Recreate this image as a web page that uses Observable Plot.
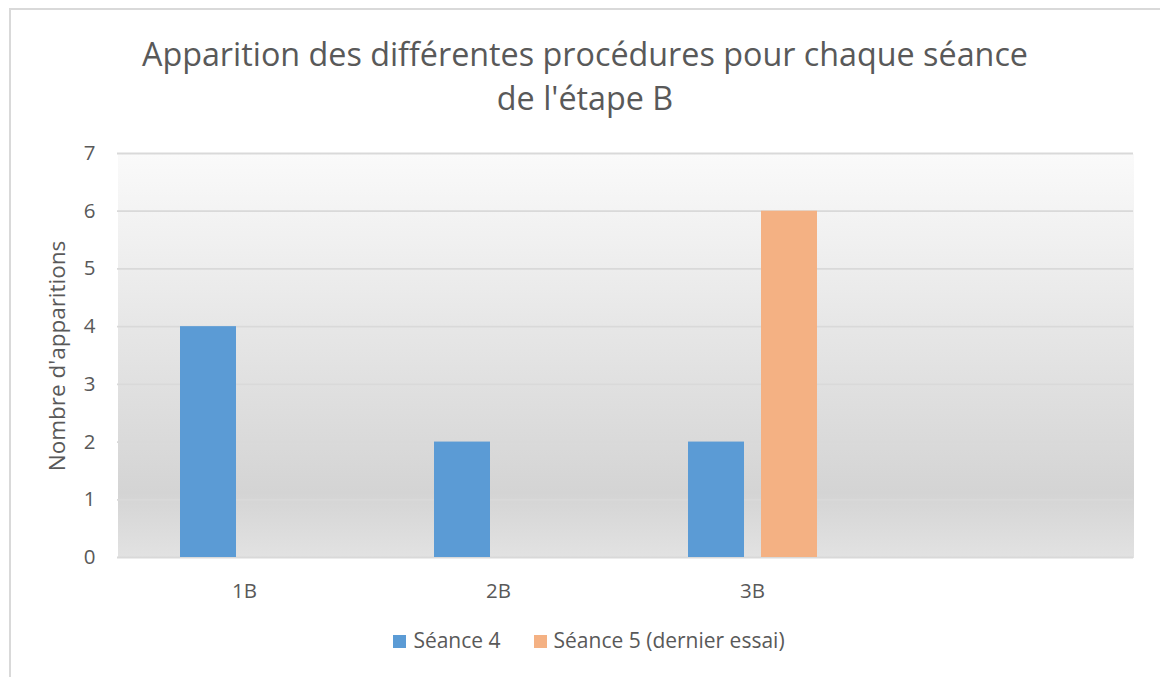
<!DOCTYPE html>
<html><head><meta charset="utf-8">
<script src="https://cdn.jsdelivr.net/npm/d3@7"></script>
<script src="https://cdn.jsdelivr.net/npm/@observablehq/plot@0.6"></script>
<style>
body{margin:0;background:#fff;font-family:"Open Sans",sans-serif;color:#595959;}
#page{position:relative;width:1160px;height:677px;overflow:hidden;}
#border{position:absolute;left:9px;top:8px;width:1300px;height:800px;border-top:2px solid #d9d9d9;border-left:2px solid #d9d9d9;}
#title{position:absolute;left:0;width:1170px;top:31px;text-align:center;font-size:32.3px;line-height:44px;}
#chart{position:absolute;left:0;top:135px;}
#ylabel{position:absolute;left:57px;top:356px;transform:translate(-50%,-50%) rotate(-90deg);white-space:nowrap;font-size:22.5px;line-height:26px;}
#legend{position:absolute;left:0;width:1178px;top:627px;display:flex;justify-content:center;gap:33px;font-size:21px;line-height:26px;}
.item{display:flex;align-items:center;gap:7px;}
.sw{width:13px;height:13px;margin-top:3px;}
</style>
</head><body>
<div id="page">
  <div id="border"></div>
  <div id="title">Apparition des différentes procédures pour chaque séance<br>de l'étape B</div>
  <div id="chart"></div>
  <div id="ylabel"></div>
  <div id="legend"></div>
</div>
<script>
const categories = ["1B", "2B", "3B", ""];
const series = ["Séance 4", "Séance 5 (dernier essai)"];
const seance4 = [4, 2, 2, 0];
const seance5 = [0, 0, 6, 0];
const yTicks = [0, 1, 2, 3, 4, 5, 6, 7];
const colors = ["#5b9bd5", "#f4b183"];
const yLabel = "Nombre d'apparitions";

const data = [];
categories.forEach((c, i) => {
  data.push({category: c, series: series[0], value: seance4[i]});
  data.push({category: c, series: series[1], value: seance5[i]});
});

const plot = Plot.plot({
  width: 1160,
  height: 480,
  marginTop: 18,
  marginBottom: 58,
  marginLeft: 117,
  marginRight: 27,
  style: {fontFamily: "Open Sans", fontSize: "20.5px", color: "#595959", background: "transparent"},
  fx: {domain: categories, padding: 0, axis: "bottom", label: null, tickSize: 0, tickPadding: 26},
  x: {domain: series, paddingInner: 0.233, paddingOuter: 0.856, axis: null},
  y: {domain: [0, 7], ticks: yTicks, tickFormat: d3.format("d"), tickSize: 0, tickPadding: 22, label: null},
  color: {domain: series, range: colors},
  marks: [
    Plot.frame({fill: "url(#bg)", stroke: null, shapeRendering: "crispEdges"}),
    Plot.ruleY(yTicks, {stroke: "#d9d9d9", strokeWidth: 1.8}),
    Plot.barY(data, {fx: "category", x: "series", y: "value", fill: "series"})
  ]
});

d3.select(plot).insert("defs", ":first-child").html(
  '<linearGradient id="bg" x1="0" y1="0" x2="0" y2="1">' +
  '<stop offset="0" stop-color="#fafafa"/>' +
  '<stop offset="0.84" stop-color="#d4d4d4"/>' +
  '<stop offset="1" stop-color="#e2e2e2"/>' +
  '</linearGradient>');

document.getElementById("chart").appendChild(plot);
document.getElementById("ylabel").textContent = yLabel;

const legend = d3.select("#legend");
series.forEach((s, i) => {
  const it = legend.append("div").attr("class", "item");
  it.append("div").attr("class", "sw").style("background", colors[i]);
  it.append("span").text(s);
});
</script>
</body></html>
